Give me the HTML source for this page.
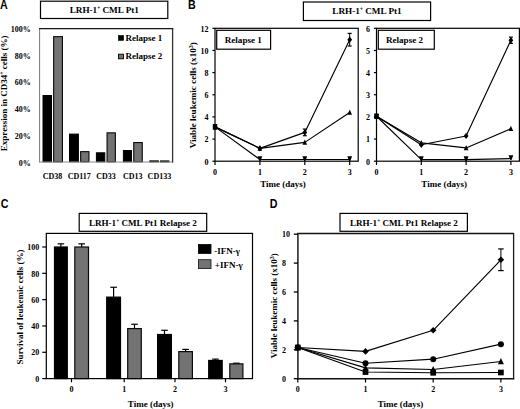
<!DOCTYPE html>
<html><head><meta charset="utf-8"><style>
html,body{margin:0;padding:0;background:#fff;}
body{width:520px;height:409px;overflow:hidden;}
svg{display:block;}
</style></head><body>
<svg width="520" height="409" viewBox="0 0 520 409">
<rect width="520" height="409" fill="#fff"/>
<g style="font-family:'Liberation Sans',sans-serif;font-weight:bold" font-size="12">
<text transform="translate(0,8.5) scale(0.89,1)" font-size="12">A</text>
<text transform="translate(188.1,8.7) scale(0.89,1)" font-size="12">B</text>
<text transform="translate(0.8,207.7) scale(0.89,1)" font-size="12">C</text>
<text transform="translate(269.7,207.7) scale(0.89,1)" font-size="12">D</text>
</g>
<g style="font-family:'Liberation Serif',serif;font-weight:bold">
<rect x="40.50" y="1.20" width="127.30" height="17.30" fill="none" stroke="#000" stroke-width="1.2"/>
<text x="104.30" y="12.90" font-size="9.2" text-anchor="middle" >LRH-1<tspan dy="-3.2" font-size="5.2">+</tspan><tspan dy="3.2"> CML Pt1</tspan></text>
<rect x="43.00" y="95.50" width="8.50" height="66.30" fill="#000" stroke="#000" stroke-width="1.0"/>
<rect x="53.65" y="36.65" width="8.80" height="125.15" fill="#737373" stroke="#080808" stroke-width="1.1"/>
<rect x="69.50" y="134.10" width="8.90" height="27.70" fill="#000" stroke="#000" stroke-width="1.0"/>
<rect x="80.65" y="151.65" width="8.30" height="10.15" fill="#737373" stroke="#080808" stroke-width="1.1"/>
<rect x="96.40" y="152.80" width="8.40" height="9.00" fill="#000" stroke="#000" stroke-width="1.0"/>
<rect x="107.05" y="132.85" width="8.30" height="28.95" fill="#737373" stroke="#080808" stroke-width="1.1"/>
<rect x="123.40" y="150.50" width="8.10" height="11.30" fill="#000" stroke="#000" stroke-width="1.0"/>
<rect x="133.75" y="142.55" width="8.50" height="19.25" fill="#737373" stroke="#080808" stroke-width="1.1"/>
<rect x="149.80" y="160.90" width="8.60" height="0.90" fill="#000" stroke="#000" stroke-width="1.0"/>
<rect x="160.55" y="160.95" width="8.30" height="0.85" fill="#737373" stroke="#080808" stroke-width="1.1"/>
<line x1="39.60" y1="28.50" x2="39.60" y2="162.20" stroke="#7a7a7a" stroke-width="1.0"/>
<line x1="39.10" y1="162.00" x2="173.20" y2="162.00" stroke="#8a8a8a" stroke-width="1.0"/>
<line x1="39.10" y1="28.50" x2="173.30" y2="28.50" stroke="#151515" stroke-width="1.25"/>
<line x1="172.60" y1="27.90" x2="172.60" y2="162.50" stroke="#333" stroke-width="1.3"/>
<text x="30.80" y="32.00" font-size="8" text-anchor="end" >100%</text>
<text x="30.80" y="58.70" font-size="8" text-anchor="end" >80%</text>
<text x="30.80" y="85.40" font-size="8" text-anchor="end" >60%</text>
<text x="30.80" y="112.10" font-size="8" text-anchor="end" >40%</text>
<text x="30.80" y="138.80" font-size="8" text-anchor="end" >20%</text>
<text x="30.80" y="165.50" font-size="8" text-anchor="end" >0%</text>
<text x="52.60" y="178.80" font-size="8" text-anchor="middle" >CD38</text>
<text x="79.30" y="178.80" font-size="8" text-anchor="middle" >CD117</text>
<text x="106.00" y="178.80" font-size="8" text-anchor="middle" >CD33</text>
<text x="132.70" y="178.80" font-size="8" text-anchor="middle" >CD13</text>
<text x="159.40" y="178.80" font-size="8" text-anchor="middle" >CD133</text>
<rect x="118.40" y="35.60" width="5.20" height="4.80" fill="#000" stroke="#000" stroke-width="0.6"/>
<text x="125.60" y="40.60" font-size="9" text-anchor="start" >Relapse 1</text>
<rect x="118.50" y="54.20" width="5.00" height="4.60" fill="#737373" stroke="#000" stroke-width="0.9"/>
<text x="125.60" y="59.10" font-size="9" text-anchor="start" >Relapse 2</text>
<text transform="translate(7.2,93.3) rotate(-90)" font-size="9" text-anchor="middle">Expression in CD34<tspan dy="-3" font-size="6">+</tspan><tspan dy="3"> cells (%)</tspan></text>
<rect x="303.40" y="2.00" width="127.20" height="18.50" fill="none" stroke="#000" stroke-width="1.2"/>
<text x="367.00" y="14.30" font-size="9.2" text-anchor="middle" >LRH-1<tspan dy="-3.2" font-size="5.2">+</tspan><tspan dy="3.2"> CML Pt1</tspan></text>
<rect x="215.00" y="28.30" width="143.20" height="132.90" fill="none" stroke="#000" stroke-width="1.2"/>
<line x1="212.40" y1="161.20" x2="215.00" y2="161.20" stroke="#000" stroke-width="1.2"/>
<text x="208.40" y="164.50" font-size="8" text-anchor="end" >0</text>
<line x1="212.40" y1="139.05" x2="215.00" y2="139.05" stroke="#000" stroke-width="1.2"/>
<text x="208.40" y="142.35" font-size="8" text-anchor="end" >2</text>
<line x1="212.40" y1="116.90" x2="215.00" y2="116.90" stroke="#000" stroke-width="1.2"/>
<text x="208.40" y="120.20" font-size="8" text-anchor="end" >4</text>
<line x1="212.40" y1="94.75" x2="215.00" y2="94.75" stroke="#000" stroke-width="1.2"/>
<text x="208.40" y="98.05" font-size="8" text-anchor="end" >6</text>
<line x1="212.40" y1="72.60" x2="215.00" y2="72.60" stroke="#000" stroke-width="1.2"/>
<text x="208.40" y="75.90" font-size="8" text-anchor="end" >8</text>
<line x1="212.40" y1="50.45" x2="215.00" y2="50.45" stroke="#000" stroke-width="1.2"/>
<text x="208.40" y="53.75" font-size="8" text-anchor="end" >10</text>
<line x1="212.40" y1="28.30" x2="215.00" y2="28.30" stroke="#000" stroke-width="1.2"/>
<text x="208.40" y="31.60" font-size="8" text-anchor="end" >12</text>
<line x1="215.00" y1="161.20" x2="215.00" y2="165.00" stroke="#000" stroke-width="1.2"/>
<text x="215.00" y="175.10" font-size="8" text-anchor="middle" >0</text>
<line x1="259.90" y1="161.20" x2="259.90" y2="165.00" stroke="#000" stroke-width="1.2"/>
<text x="259.90" y="175.10" font-size="8" text-anchor="middle" >1</text>
<line x1="304.80" y1="161.20" x2="304.80" y2="165.00" stroke="#000" stroke-width="1.2"/>
<text x="304.80" y="175.10" font-size="8" text-anchor="middle" >2</text>
<line x1="349.70" y1="161.20" x2="349.70" y2="165.00" stroke="#000" stroke-width="1.2"/>
<text x="349.70" y="175.10" font-size="8" text-anchor="middle" >3</text>
<rect x="216.70" y="30.30" width="53.90" height="18.90" fill="none" stroke="#000" stroke-width="1.2"/>
<text x="243.30" y="42.70" font-size="9.1" text-anchor="middle" >Relapse 1</text>
<polyline points="215.00,126.87 259.90,159.54 304.80,159.54 349.70,159.54" fill="none" stroke="#000" stroke-width="1.15" stroke-linejoin="round"/>
<path d="M215.00 129.62 L217.20 124.62 L212.80 124.62Z" fill="#000"/>
<path d="M257.50 156.24 L262.30 156.24 L260.50 161.04 L259.30 161.04Z" fill="#000"/>
<path d="M302.40 156.24 L307.20 156.24 L305.40 161.04 L304.20 161.04Z" fill="#000"/>
<path d="M347.30 156.24 L352.10 156.24 L350.30 161.04 L349.10 161.04Z" fill="#000"/>
<polyline points="215.00,126.87 259.90,148.35 304.80,142.37 349.70,112.47" fill="none" stroke="#000" stroke-width="1.15" stroke-linejoin="round"/>
<path d="M215.00 124.01 L217.30 129.21 L212.70 129.21Z" fill="#000"/>
<path d="M259.90 145.49 L262.20 150.69 L257.60 150.69Z" fill="#000"/>
<path d="M304.80 139.51 L307.10 144.71 L302.50 144.71Z" fill="#000"/>
<path d="M349.70 109.61 L352.00 114.81 L347.40 114.81Z" fill="#000"/>
<polyline points="215.00,126.87 259.90,148.35 304.80,132.41 349.70,39.71" fill="none" stroke="#000" stroke-width="1.15" stroke-linejoin="round"/>
<path d="M215.00 123.77 L217.40 126.87 L215.00 129.97 L212.60 126.87Z" fill="#000"/>
<path d="M259.90 145.25 L262.30 148.35 L259.90 151.45 L257.50 148.35Z" fill="#000"/>
<line x1="304.80" y1="129.08" x2="304.80" y2="135.73" stroke="#000" stroke-width="1.0"/>
<line x1="302.80" y1="129.08" x2="306.80" y2="129.08" stroke="#000" stroke-width="1.2"/>
<line x1="302.80" y1="135.73" x2="306.80" y2="135.73" stroke="#000" stroke-width="1.2"/>
<path d="M304.80 129.31 L307.20 132.41 L304.80 135.50 L302.40 132.41Z" fill="#000"/>
<line x1="349.70" y1="33.39" x2="349.70" y2="46.02" stroke="#000" stroke-width="1.0"/>
<line x1="347.70" y1="33.39" x2="351.70" y2="33.39" stroke="#000" stroke-width="1.2"/>
<line x1="347.70" y1="46.02" x2="351.70" y2="46.02" stroke="#000" stroke-width="1.2"/>
<path d="M349.70 36.61 L352.10 39.71 L349.70 42.81 L347.30 39.71Z" fill="#000"/>
<rect x="212.80" y="124.07" width="4.4" height="5.6" fill="#000"/>
<text x="260.20" y="186.70" font-size="9" text-anchor="start" >Time (days)</text>
<rect x="376.50" y="28.30" width="142.90" height="132.90" fill="none" stroke="#000" stroke-width="1.2"/>
<line x1="373.90" y1="161.20" x2="376.50" y2="161.20" stroke="#000" stroke-width="1.2"/>
<text x="370.10" y="164.50" font-size="8" text-anchor="end" >0</text>
<line x1="373.90" y1="139.05" x2="376.50" y2="139.05" stroke="#000" stroke-width="1.2"/>
<text x="370.10" y="142.35" font-size="8" text-anchor="end" >1</text>
<line x1="373.90" y1="116.90" x2="376.50" y2="116.90" stroke="#000" stroke-width="1.2"/>
<text x="370.10" y="120.20" font-size="8" text-anchor="end" >2</text>
<line x1="373.90" y1="94.75" x2="376.50" y2="94.75" stroke="#000" stroke-width="1.2"/>
<text x="370.10" y="98.05" font-size="8" text-anchor="end" >3</text>
<line x1="373.90" y1="72.60" x2="376.50" y2="72.60" stroke="#000" stroke-width="1.2"/>
<text x="370.10" y="75.90" font-size="8" text-anchor="end" >4</text>
<line x1="373.90" y1="50.45" x2="376.50" y2="50.45" stroke="#000" stroke-width="1.2"/>
<text x="370.10" y="53.75" font-size="8" text-anchor="end" >5</text>
<line x1="373.90" y1="28.30" x2="376.50" y2="28.30" stroke="#000" stroke-width="1.2"/>
<text x="370.10" y="31.60" font-size="8" text-anchor="end" >6</text>
<line x1="376.50" y1="161.20" x2="376.50" y2="165.00" stroke="#000" stroke-width="1.2"/>
<text x="376.50" y="175.10" font-size="8" text-anchor="middle" >0</text>
<line x1="421.30" y1="161.20" x2="421.30" y2="165.00" stroke="#000" stroke-width="1.2"/>
<text x="421.30" y="175.10" font-size="8" text-anchor="middle" >1</text>
<line x1="466.10" y1="161.20" x2="466.10" y2="165.00" stroke="#000" stroke-width="1.2"/>
<text x="466.10" y="175.10" font-size="8" text-anchor="middle" >2</text>
<line x1="510.90" y1="161.20" x2="510.90" y2="165.00" stroke="#000" stroke-width="1.2"/>
<text x="510.90" y="175.10" font-size="8" text-anchor="middle" >3</text>
<rect x="378.30" y="30.30" width="56.00" height="18.90" fill="none" stroke="#000" stroke-width="1.2"/>
<text x="404.50" y="42.70" font-size="9.1" text-anchor="middle" >Relapse 2</text>
<polyline points="376.50,116.24 421.30,159.65 466.10,159.65 510.90,158.54" fill="none" stroke="#000" stroke-width="1.15" stroke-linejoin="round"/>
<path d="M376.50 118.99 L378.70 113.99 L374.30 113.99Z" fill="#000"/>
<path d="M418.90 156.35 L423.70 156.35 L421.90 161.15 L420.70 161.15Z" fill="#000"/>
<path d="M463.70 156.35 L468.50 156.35 L466.70 161.15 L465.50 161.15Z" fill="#000"/>
<path d="M508.50 155.24 L513.30 155.24 L511.50 160.04 L510.30 160.04Z" fill="#000"/>
<polyline points="376.50,116.24 421.30,142.82 466.10,147.91 510.90,128.64" fill="none" stroke="#000" stroke-width="1.15" stroke-linejoin="round"/>
<path d="M376.50 113.38 L378.80 118.58 L374.20 118.58Z" fill="#000"/>
<path d="M421.30 139.96 L423.60 145.16 L419.00 145.16Z" fill="#000"/>
<path d="M466.10 145.05 L468.40 150.25 L463.80 150.25Z" fill="#000"/>
<path d="M510.90 125.78 L513.20 130.98 L508.60 130.98Z" fill="#000"/>
<polyline points="376.50,116.24 421.30,144.81 466.10,135.95 510.90,40.26" fill="none" stroke="#000" stroke-width="1.15" stroke-linejoin="round"/>
<path d="M376.50 113.14 L378.90 116.24 L376.50 119.34 L374.10 116.24Z" fill="#000"/>
<path d="M421.30 141.71 L423.70 144.81 L421.30 147.91 L418.90 144.81Z" fill="#000"/>
<path d="M466.10 132.85 L468.50 135.95 L466.10 139.05 L463.70 135.95Z" fill="#000"/>
<line x1="510.90" y1="37.16" x2="510.90" y2="43.36" stroke="#000" stroke-width="1.0"/>
<line x1="508.90" y1="37.16" x2="512.90" y2="37.16" stroke="#000" stroke-width="1.2"/>
<line x1="508.90" y1="43.36" x2="512.90" y2="43.36" stroke="#000" stroke-width="1.2"/>
<path d="M510.90 37.16 L513.30 40.26 L510.90 43.36 L508.50 40.26Z" fill="#000"/>
<rect x="374.30" y="113.44" width="4.4" height="5.6" fill="#000"/>
<text x="421.30" y="186.70" font-size="9" text-anchor="start" >Time (days)</text>
<text transform="translate(195.8,95.2) rotate(-90)" font-size="9.1" text-anchor="middle">Viable leukemic cells (x10<tspan dy="-3" font-size="6">3</tspan><tspan dy="3">)</tspan></text>
<rect x="79.20" y="213.40" width="127.50" height="17.90" fill="none" stroke="#000" stroke-width="1.2"/>
<text x="142.90" y="225.70" font-size="9.1" text-anchor="middle" >LRH-1<tspan dy="-3.1" font-size="5.2">+</tspan><tspan dy="3.1"> CML Pt1 Relapse 2</tspan></text>
<line x1="60.90" y1="247.00" x2="60.90" y2="243.84" stroke="#000" stroke-width="1.2"/>
<line x1="57.60" y1="243.84" x2="64.20" y2="243.84" stroke="#000" stroke-width="1.2"/>
<rect x="54.50" y="247.00" width="12.80" height="131.60" fill="#000" stroke="#000" stroke-width="1.2"/>
<line x1="81.65" y1="247.00" x2="81.65" y2="243.84" stroke="#000" stroke-width="1.2"/>
<line x1="78.35" y1="243.84" x2="84.95" y2="243.84" stroke="#000" stroke-width="1.2"/>
<rect x="74.80" y="247.00" width="13.70" height="131.60" fill="#737373" stroke="#0a0a0a" stroke-width="1.2"/>
<line x1="113.60" y1="297.14" x2="113.60" y2="287.27" stroke="#000" stroke-width="1.2"/>
<line x1="110.30" y1="287.27" x2="116.90" y2="287.27" stroke="#000" stroke-width="1.2"/>
<rect x="106.70" y="297.14" width="13.80" height="81.46" fill="#000" stroke="#000" stroke-width="1.2"/>
<line x1="134.50" y1="328.59" x2="134.50" y2="324.25" stroke="#000" stroke-width="1.2"/>
<line x1="131.20" y1="324.25" x2="137.80" y2="324.25" stroke="#000" stroke-width="1.2"/>
<rect x="127.70" y="328.59" width="13.60" height="50.01" fill="#737373" stroke="#0a0a0a" stroke-width="1.2"/>
<line x1="164.50" y1="334.51" x2="164.50" y2="330.30" stroke="#000" stroke-width="1.2"/>
<line x1="161.20" y1="330.30" x2="167.80" y2="330.30" stroke="#000" stroke-width="1.2"/>
<rect x="157.60" y="334.51" width="13.80" height="44.09" fill="#000" stroke="#000" stroke-width="1.2"/>
<line x1="185.60" y1="351.62" x2="185.60" y2="349.38" stroke="#000" stroke-width="1.2"/>
<line x1="182.30" y1="349.38" x2="188.90" y2="349.38" stroke="#000" stroke-width="1.2"/>
<rect x="178.80" y="351.62" width="13.60" height="26.98" fill="#737373" stroke="#0a0a0a" stroke-width="1.2"/>
<line x1="215.45" y1="360.44" x2="215.45" y2="359.12" stroke="#000" stroke-width="1.2"/>
<line x1="212.15" y1="359.12" x2="218.75" y2="359.12" stroke="#000" stroke-width="1.2"/>
<rect x="208.70" y="360.44" width="13.50" height="18.16" fill="#000" stroke="#000" stroke-width="1.2"/>
<line x1="236.35" y1="363.86" x2="236.35" y2="363.20" stroke="#000" stroke-width="1.2"/>
<line x1="233.05" y1="363.20" x2="239.65" y2="363.20" stroke="#000" stroke-width="1.2"/>
<rect x="229.80" y="363.86" width="13.10" height="14.74" fill="#737373" stroke="#0a0a0a" stroke-width="1.2"/>
<rect x="46.30" y="233.40" width="206.20" height="145.20" fill="none" stroke="#000" stroke-width="1.2"/>
<line x1="42.20" y1="378.60" x2="46.30" y2="378.60" stroke="#000" stroke-width="1.2"/>
<text x="39.20" y="381.80" font-size="8" text-anchor="end" >0</text>
<line x1="42.20" y1="352.28" x2="46.30" y2="352.28" stroke="#000" stroke-width="1.2"/>
<text x="39.20" y="355.48" font-size="8" text-anchor="end" >20</text>
<line x1="42.20" y1="325.96" x2="46.30" y2="325.96" stroke="#000" stroke-width="1.2"/>
<text x="39.20" y="329.16" font-size="8" text-anchor="end" >40</text>
<line x1="42.20" y1="299.64" x2="46.30" y2="299.64" stroke="#000" stroke-width="1.2"/>
<text x="39.20" y="302.84" font-size="8" text-anchor="end" >60</text>
<line x1="42.20" y1="273.32" x2="46.30" y2="273.32" stroke="#000" stroke-width="1.2"/>
<text x="39.20" y="276.52" font-size="8" text-anchor="end" >80</text>
<line x1="42.20" y1="247.00" x2="46.30" y2="247.00" stroke="#000" stroke-width="1.2"/>
<text x="39.20" y="250.20" font-size="8" text-anchor="end" >100</text>
<line x1="71.50" y1="378.60" x2="71.50" y2="382.30" stroke="#000" stroke-width="1.2"/>
<text x="71.50" y="392.00" font-size="8" text-anchor="middle" >0</text>
<line x1="124.20" y1="378.60" x2="124.20" y2="382.30" stroke="#000" stroke-width="1.2"/>
<text x="124.20" y="392.00" font-size="8" text-anchor="middle" >1</text>
<line x1="175.00" y1="378.60" x2="175.00" y2="382.30" stroke="#000" stroke-width="1.2"/>
<text x="175.00" y="392.00" font-size="8" text-anchor="middle" >2</text>
<line x1="225.50" y1="378.60" x2="225.50" y2="382.30" stroke="#000" stroke-width="1.2"/>
<text x="225.50" y="392.00" font-size="8" text-anchor="middle" >3</text>
<rect x="198.40" y="244.50" width="12.60" height="8.90" fill="#000" stroke="#000" stroke-width="0.8"/>
<text x="214.20" y="253.70" font-size="9" text-anchor="start" >-IFN-γ</text>
<rect x="198.40" y="259.70" width="12.60" height="8.90" fill="#737373" stroke="#111" stroke-width="0.8"/>
<text x="214.80" y="268.30" font-size="9" text-anchor="start" >+IFN-γ</text>
<text transform="translate(23.2,306.9) rotate(-90)" font-size="9" text-anchor="middle">Survival of leukemic cells (%)</text>
<text x="150.60" y="406.80" font-size="9" text-anchor="middle" >Time (days)</text>
<rect x="340.00" y="213.40" width="127.40" height="17.90" fill="none" stroke="#000" stroke-width="1.2"/>
<text x="403.90" y="225.80" font-size="9.1" text-anchor="middle" >LRH-1<tspan dy="-3.1" font-size="5.2">+</tspan><tspan dy="3.1"> CML Pt1 Relapse 2</tspan></text>
<line x1="297.20" y1="233.50" x2="513.60" y2="233.50" stroke="#111" stroke-width="1.3"/>
<line x1="513.60" y1="232.90" x2="513.60" y2="379.30" stroke="#1a1a1a" stroke-width="1.3"/>
<line x1="297.20" y1="378.70" x2="514.20" y2="378.70" stroke="#111" stroke-width="1.4"/>
<line x1="297.90" y1="232.90" x2="297.90" y2="379.40" stroke="#2a2a2a" stroke-width="1.6"/>
<line x1="293.80" y1="378.70" x2="297.90" y2="378.70" stroke="#000" stroke-width="1.3"/>
<text x="282.00" y="381.90" font-size="8" text-anchor="start" >0</text>
<line x1="293.80" y1="349.80" x2="297.90" y2="349.80" stroke="#000" stroke-width="1.3"/>
<text x="282.00" y="353.00" font-size="8" text-anchor="start" >2</text>
<line x1="293.80" y1="320.90" x2="297.90" y2="320.90" stroke="#000" stroke-width="1.3"/>
<text x="282.00" y="324.10" font-size="8" text-anchor="start" >4</text>
<line x1="293.80" y1="292.00" x2="297.90" y2="292.00" stroke="#000" stroke-width="1.3"/>
<text x="282.00" y="295.20" font-size="8" text-anchor="start" >6</text>
<line x1="293.80" y1="263.10" x2="297.90" y2="263.10" stroke="#000" stroke-width="1.3"/>
<text x="282.00" y="266.30" font-size="8" text-anchor="start" >8</text>
<line x1="293.80" y1="234.20" x2="297.90" y2="234.20" stroke="#000" stroke-width="1.3"/>
<text x="282.00" y="237.40" font-size="8" text-anchor="start" >10</text>
<line x1="297.80" y1="378.70" x2="297.80" y2="382.60" stroke="#000" stroke-width="1.2"/>
<text x="297.80" y="391.50" font-size="8" text-anchor="middle" >0</text>
<line x1="365.50" y1="378.70" x2="365.50" y2="382.60" stroke="#000" stroke-width="1.2"/>
<text x="365.50" y="391.50" font-size="8" text-anchor="middle" >1</text>
<line x1="433.20" y1="378.70" x2="433.20" y2="382.60" stroke="#000" stroke-width="1.2"/>
<text x="433.20" y="391.50" font-size="8" text-anchor="middle" >2</text>
<line x1="500.90" y1="378.70" x2="500.90" y2="382.60" stroke="#000" stroke-width="1.2"/>
<text x="500.90" y="391.50" font-size="8" text-anchor="middle" >3</text>
<polyline points="297.80,347.49 365.50,372.05 433.20,372.78 500.90,372.49" fill="none" stroke="#000" stroke-width="1.15" stroke-linejoin="round"/>
<rect x="294.95" y="344.64" width="5.70" height="5.70" fill="#000"/>
<rect x="362.65" y="369.20" width="5.70" height="5.70" fill="#000"/>
<rect x="430.35" y="369.93" width="5.70" height="5.70" fill="#000"/>
<rect x="498.05" y="369.64" width="5.70" height="5.70" fill="#000"/>
<polyline points="297.80,347.49 365.50,367.86 433.20,369.45 500.90,361.50" fill="none" stroke="#000" stroke-width="1.15" stroke-linejoin="round"/>
<path d="M297.80 344.08 L300.80 350.28 L294.80 350.28Z" fill="#000"/>
<path d="M365.50 364.45 L368.50 370.65 L362.50 370.65Z" fill="#000"/>
<path d="M433.20 366.04 L436.20 372.24 L430.20 372.24Z" fill="#000"/>
<path d="M500.90 358.09 L503.90 364.29 L497.90 364.29Z" fill="#000"/>
<polyline points="297.80,347.49 365.50,363.24 433.20,359.19 500.90,344.16" fill="none" stroke="#000" stroke-width="1.15" stroke-linejoin="round"/>
<circle cx="297.80" cy="347.49" r="3.00" fill="#000"/>
<circle cx="365.50" cy="363.24" r="3.00" fill="#000"/>
<circle cx="433.20" cy="359.19" r="3.00" fill="#000"/>
<circle cx="500.90" cy="344.16" r="3.00" fill="#000"/>
<polyline points="297.80,347.49 365.50,351.39 433.20,330.29 500.90,259.78" fill="none" stroke="#000" stroke-width="1.15" stroke-linejoin="round"/>
<path d="M297.80 344.19 L301.10 347.49 L297.80 350.79 L294.50 347.49Z" fill="#000"/>
<path d="M365.50 348.09 L368.80 351.39 L365.50 354.69 L362.20 351.39Z" fill="#000"/>
<path d="M433.20 326.99 L436.50 330.29 L433.20 333.59 L429.90 330.29Z" fill="#000"/>
<line x1="500.90" y1="248.94" x2="500.90" y2="270.61" stroke="#000" stroke-width="1.0"/>
<line x1="498.10" y1="248.94" x2="503.70" y2="248.94" stroke="#000" stroke-width="1.2"/>
<line x1="498.10" y1="270.61" x2="503.70" y2="270.61" stroke="#000" stroke-width="1.2"/>
<path d="M500.90 256.48 L504.20 259.78 L500.90 263.08 L497.60 259.78Z" fill="#000"/>
<text transform="translate(276.6,305.7) rotate(-90)" font-size="9" text-anchor="middle">Viable leukemic cells (x10<tspan dy="-3" font-size="6">3</tspan><tspan dy="3">)</tspan></text>
<text x="400.50" y="407.00" font-size="9" text-anchor="middle" >Time (days)</text>
</g>
</svg>
</body></html>
